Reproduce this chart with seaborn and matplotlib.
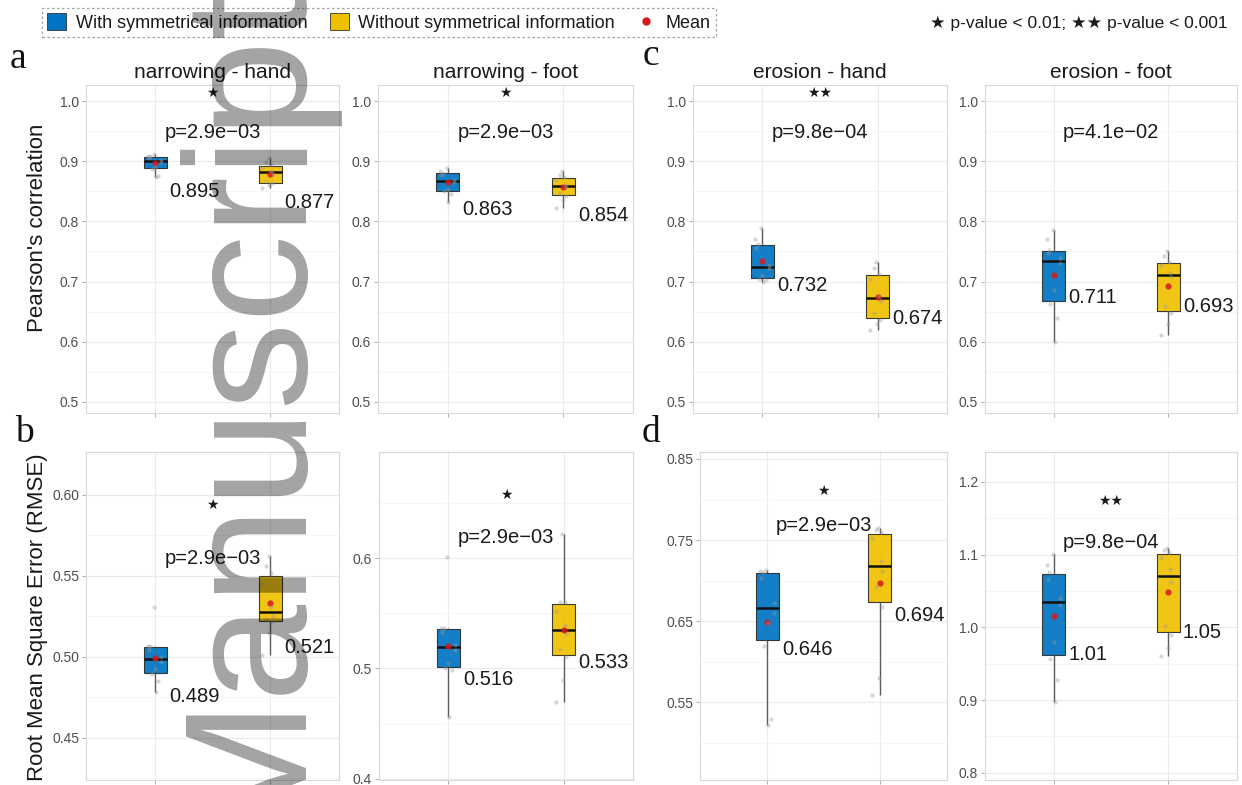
import numpy as np
import pandas as pd
import matplotlib
matplotlib.use("Agg")
import matplotlib.pyplot as plt
import seaborn as sns
from matplotlib.patches import Patch
from matplotlib.lines import Line2D
from matplotlib.ticker import FixedLocator

# ------------------------------------------------------------------ data
groups = ["With symmetrical information", "Without symmetrical information"]
panel_titles = ["narrowing - hand", "narrowing - foot", "erosion - hand", "erosion - foot"]
metric_labels = ["Pearson's correlation", "Root Mean Square Error (RMSE)"]
panel_letters = ["a", "b", "c", "d"]

# Pearson's correlation (10 folds each)
pcc_narrowing_hand_with = [0.874, 0.876, 0.887, 0.891, 0.898, 0.902, 0.9045, 0.9085, 0.909, 0.912]
pcc_narrowing_hand_without = [0.855, 0.860, 0.863, 0.867, 0.879, 0.884, 0.889, 0.893, 0.898, 0.905]
pcc_narrowing_foot_with = [0.833, 0.845, 0.850, 0.854, 0.865, 0.869, 0.877, 0.881, 0.884, 0.889]
pcc_narrowing_foot_without = [0.822, 0.836, 0.843, 0.847, 0.857, 0.861, 0.869, 0.873, 0.877, 0.883]
pcc_erosion_hand_with = [0.700, 0.703, 0.705, 0.711, 0.722, 0.728, 0.755, 0.763, 0.770, 0.789]
pcc_erosion_hand_without = [0.620, 0.630, 0.636, 0.648, 0.668, 0.676, 0.705, 0.713, 0.722, 0.733]
pcc_erosion_foot_with = [0.600, 0.640, 0.662, 0.686, 0.731, 0.739, 0.747, 0.7523, 0.770, 0.786]
pcc_erosion_foot_without = [0.611, 0.630, 0.648, 0.660, 0.707, 0.715, 0.727, 0.7323, 0.742, 0.751]

# RMSE (10 folds each)
rmse_narrowing_hand_with = [0.4786, 0.4850, 0.4895, 0.4927, 0.4970, 0.5002, 0.5040, 0.5067, 0.5070, 0.5310]
rmse_narrowing_hand_without = [0.501, 0.515, 0.522, 0.5236, 0.5255, 0.5305, 0.545, 0.5517, 0.556, 0.562]
rmse_narrowing_foot_with = [0.4564, 0.499, 0.5005, 0.5049, 0.517, 0.521, 0.533, 0.5366, 0.537, 0.601]
rmse_narrowing_foot_without = [0.470, 0.490, 0.510, 0.518, 0.531, 0.539, 0.552, 0.560, 0.560, 0.622]
rmse_erosion_hand_with = [0.522, 0.530, 0.620, 0.648, 0.660, 0.672, 0.703, 0.711, 0.712, 0.713]
rmse_erosion_hand_without = [0.559, 0.580, 0.668, 0.692, 0.712, 0.724, 0.752, 0.760, 0.762, 0.765]
rmse_erosion_foot_with = [0.897, 0.928, 0.956, 0.980, 1.030, 1.040, 1.066, 1.076, 1.085, 1.101]
rmse_erosion_foot_without = [0.960, 0.972, 0.990, 1.002, 1.062, 1.080, 1.095, 1.103, 1.106, 1.109]

# mean labels printed beside the boxes
mean_labels_pcc = [[0.895, 0.877], [0.863, 0.854], [0.732, 0.674], [0.711, 0.693]]
mean_labels_rmse = [[0.489, 0.521], [0.516, 0.533], [0.646, 0.694], [1.01, 1.05]]

# test results
p_text_pcc = ["p=2.9e\u221203", "p=2.9e\u221203", "p=9.8e\u221204", "p=4.1e\u221202"]
p_text_rmse = ["p=2.9e\u221203", "p=2.9e\u221203", "p=2.9e\u221203", "p=9.8e\u221204"]
stars_pcc = ["\u2605", "\u2605", "\u2605\u2605", ""]
stars_rmse = ["\u2605", "\u2605", "\u2605", "\u2605\u2605"]

# axis ticks
yticks_pcc = [0.5, 0.6, 0.7, 0.8, 0.9, 1.0]
yticks_rmse = [[0.45, 0.50, 0.55, 0.60], [0.4, 0.5, 0.6], [0.55, 0.65, 0.75, 0.85], [0.8, 0.9, 1.0, 1.1, 1.2]]
ytick_fmt_rmse = ["{:.2f}", "{:.1f}", "{:.2f}", "{:.1f}"]

# ------------------------------------------------------------------ layout / style
BLUE = "#0073C2"
YELLOW = "#EFC000"
MEAN_RED = "#D7191C"
FW, FH = 1242, 785

ylim_pcc = (0.4817, 1.0266)
ylim_rmse = [(0.424, 0.6265), (0.399, 0.696), (0.4542, 0.8586), (0.790, 1.241)]
# annotation anchor heights (data units)
star_y_pcc = [1.013, 1.013, 1.013, 1.013]
p_y_pcc = [0.948, 0.948, 0.948, 0.948]
star_y_rmse = [0.594, 0.657, 0.810, 1.174]
p_y_rmse = [0.561, 0.619, 0.768, 1.116]
label_y_pcc = [[0.849, 0.8317], [0.820, 0.8106], [0.6927, 0.6379], [0.6744, 0.6583]]
label_y_rmse = [[0.4753, 0.5056], [0.4896, 0.5053], [0.6145, 0.6576], [0.9622, 0.9929]]

rects_row1 = [(86, 339), (378, 633), (693, 947), (985, 1237)]
rects_row2 = [(86, 339), (379, 633), (700, 947), (985, 1237)]
row1_tb = (85, 413)
row2_tb = (452, 780)

plt.rcParams["font.family"] = ["Liberation Sans", "DejaVu Sans"]
TXT = "#1a1a1a"

fig = plt.figure(figsize=(FW / 100, FH / 100), dpi=100)
fig.patch.set_facecolor("white")


def rect(l, r, t, b):
    return [l / FW, 1 - b / FH, (r - l) / FW, (b - t) / FH]


def draw_panel(ax, with_vals, without_vals, ylim, yticks, fmt, labels, label_y,
               star, star_y, ptxt, p_y, title=None):
    df = pd.DataFrame({
        "group": [groups[0]] * len(with_vals) + [groups[1]] * len(without_vals),
        "value": list(with_vals) + list(without_vals),
    })
    ax.set_axisbelow(True)
    sns.boxplot(data=df, x="group", y="value", hue="group", order=groups,
                hue_order=groups, palette=[BLUE, YELLOW], width=0.2,
                showfliers=False, showcaps=False, showmeans=True,
                meanprops=dict(marker="o", markerfacecolor=MEAN_RED,
                               markeredgecolor="none", markersize=4.5, alpha=0.85),
                medianprops=dict(color="#111111", linewidth=1.8),
                whiskerprops=dict(color="#5a5a5a", linewidth=1.0),
                boxprops=dict(alpha=0.92),
                linecolor="#2b2b2b", linewidth=0.8, saturation=1,
                legend=False, ax=ax)
    np.random.seed(3)
    sns.stripplot(data=df, x="group", y="value", order=groups, color="#9a9a9a",
                  size=3, alpha=0.4, jitter=0.07, ax=ax, zorder=4)
    ax.set_xlim(-0.6, 1.6)
    ax.set_ylim(*ylim)
    ax.set_yticks(yticks)
    ax.set_yticklabels([fmt.format(v) for v in yticks])
    step = yticks[1] - yticks[0]
    minors = [yticks[0] - step / 2] + [v + step / 2 for v in yticks]
    ax.yaxis.set_minor_locator(FixedLocator(minors))
    ax.set_xticks([0, 1])
    ax.set_xticklabels(["", ""])
    ax.set_xlabel("")
    ax.set_ylabel("")
    ax.grid(which="major", color="#ebebeb", linewidth=0.8)
    ax.grid(which="minor", axis="y", color="#f5f5f5", linewidth=0.6)
    ax.tick_params(which="major", length=3, color="#a0a0a0", width=0.6,
                   labelsize=10, labelcolor="#4d4d4d", pad=2)
    ax.tick_params(which="minor", length=0)
    for s in ax.spines.values():
        s.set_color("#d9d9d9")
        s.set_linewidth(0.8)
    ax.set_facecolor("white")
    if star:
        ax.text(0.5, star_y, star, ha="center", va="center", fontsize=10,
                color=TXT, family=["DejaVu Sans"])
    ax.text(0.5, p_y, ptxt, ha="center", va="center", fontsize=14.5, color=TXT)
    for i in range(2):
        ax.annotate("{:g}".format(labels[i]), xy=(i, label_y[i]), xytext=(10.5, 0),
                    textcoords="offset points", ha="left", va="center",
                    fontsize=14.5, color=TXT)
    if title:
        ax.set_title(title, fontsize=15, pad=5, color=TXT)


pcc_data = [(pcc_narrowing_hand_with, pcc_narrowing_hand_without),
            (pcc_narrowing_foot_with, pcc_narrowing_foot_without),
            (pcc_erosion_hand_with, pcc_erosion_hand_without),
            (pcc_erosion_foot_with, pcc_erosion_foot_without)]
rmse_data = [(rmse_narrowing_hand_with, rmse_narrowing_hand_without),
             (rmse_narrowing_foot_with, rmse_narrowing_foot_without),
             (rmse_erosion_hand_with, rmse_erosion_hand_without),
             (rmse_erosion_foot_with, rmse_erosion_foot_without)]

for k in range(4):
    l, r = rects_row1[k]
    ax = fig.add_axes(rect(l, r, *row1_tb))
    draw_panel(ax, *pcc_data[k], ylim_pcc, yticks_pcc, "{:.1f}",
               mean_labels_pcc[k], label_y_pcc[k], stars_pcc[k], star_y_pcc[k],
               p_text_pcc[k], p_y_pcc[k], title=panel_titles[k])
    l, r = rects_row2[k]
    ax = fig.add_axes(rect(l, r, *row2_tb))
    draw_panel(ax, *rmse_data[k], ylim_rmse[k], yticks_rmse[k], ytick_fmt_rmse[k],
               mean_labels_rmse[k], label_y_rmse[k], stars_rmse[k], star_y_rmse[k],
               p_text_rmse[k], p_y_rmse[k])

# y-axis titles
fig.text(38 / FW, 1 - 228 / FH, metric_labels[0], rotation=90, ha="center",
         va="center", fontsize=16, color=TXT)
fig.text(38 / FW, 1 - 617 / FH, metric_labels[1], rotation=90, ha="center",
         va="center", fontsize=16, color=TXT)

# panel letters
letter_pos = [(10, 68), (15, 442), (643, 65), (642, 442)]
for letter, (x, y) in zip(panel_letters, letter_pos):
    fig.text(x / FW, 1 - y / FH, letter, ha="left", va="baseline", fontsize=27,
             family=["Liberation Serif", "DejaVu Serif"], color="#111111")

# legend
handles = [Patch(facecolor=BLUE, edgecolor="#333333", linewidth=0.6),
           Patch(facecolor=YELLOW, edgecolor="#333333", linewidth=0.6),
           Line2D([], [], linestyle="none", marker="o", markerfacecolor=MEAN_RED,
                  markeredgecolor="none", markersize=6)]
leg = fig.legend(handles, groups + ["Mean"], loc="upper left",
                 bbox_to_anchor=(42 / FW, 1 - 8 / FH), ncol=3, fontsize=13,
                 frameon=True, fancybox=False, handlelength=1.05, handleheight=1.05,
                 handletextpad=0.55, columnspacing=1.2, borderpad=0.3,
                 borderaxespad=0)
frame = leg.get_frame()
frame.set_edgecolor("#8c8c8c")
frame.set_linewidth(0.9)
frame.set_linestyle((0, (2, 2)))
for t in leg.get_texts():
    t.set_color(TXT)

fig.text(1228 / FW, 1 - 23 / FH, "\u2605 p-value < 0.01; \u2605\u2605 p-value < 0.001",
         ha="right", va="center", fontsize=12.5, color=TXT)

# watermark
fig.text(293 / FW, 1 - 832 / FH, "Manuscript", rotation=90, rotation_mode="anchor",
         ha="left", va="baseline", fontsize=126, color="black", alpha=0.36,
         zorder=20)

fig.savefig("out.png", dpi=100, facecolor="white")
